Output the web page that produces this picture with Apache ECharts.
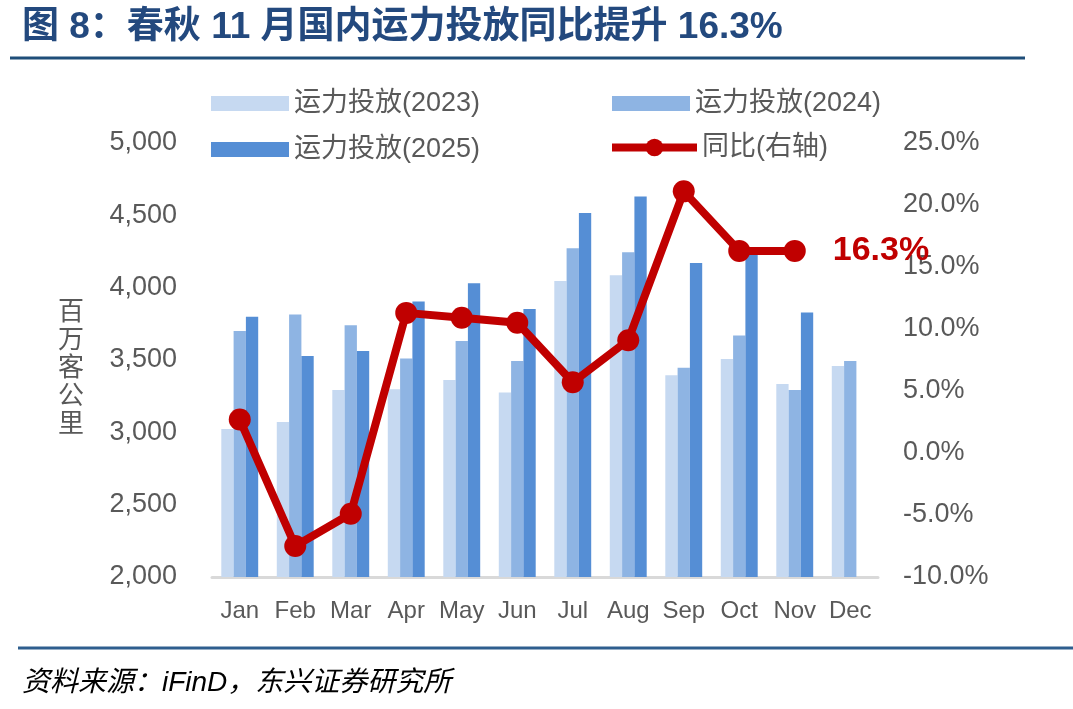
<!DOCTYPE html>
<html>
<head>
    <meta charset="utf-8" />
    <script src="https://cdn.jsdelivr.net/npm/echarts@6.0.0/dist/echarts.min.js"></script>
    <title>春秋运力投放</title>
    <style>
        html, body { margin: 0; padding: 0; background: #fff; }
        #main { width: 1073px; height: 709px; }
    </style>
</head>
<body>
    <div id="main"></div>
    <script type="text/javascript">
        // 月份
        var months = ['Jan', 'Feb', 'Mar', 'Apr', 'May', 'Jun', 'Jul', 'Aug', 'Sep', 'Oct', 'Nov', 'Dec'];
        // 运力投放，百万客公里
        var cap2023 = [3023, 3071, 3292, 3297, 3361, 3276, 4046, 4085, 3394, 3507, 3334, 3458];
        var cap2024 = [3700, 3815, 3741, 3511, 3631, 3493, 4272, 4244, 3447, 3670, 3292, 3493];
        var cap2025 = [3799, 3527, 3562, 3905, 4030, 3852, 4516, 4631, 4170, 4240, 3829, null];
        // 同比（%），右轴
        var yoy = [2.7, -7.5, -4.9, 11.3, 10.9, 10.5, 5.7, 9.1, 21.1, 16.3, 16.3];
        var leftTicks = { min: 2000, max: 5000, interval: 500 };
        var rightTicks = { min: -10, max: 25, interval: 5 };

        var FONT = "'Liberation Sans', Arial, 'Noto Sans CJK SC', sans-serif";
        var GREY = '#595959';
        var RED = '#C00000';

        var yoyData = yoy.map(function (v, i) {
            if (i === yoy.length - 1) {
                return {
                    value: v,
                    label: {
                        show: true,
                        position: 'right',
                        distance: 27,
                        formatter: function (p) { return p.value.toFixed(1) + '%'; },
                        color: RED,
                        fontSize: 34,
                        fontWeight: 'bold',
                        fontFamily: FONT
                    }
                };
            }
            return v;
        });

        function legendAt(name, left, top, isLine) {
            var lg = {
                data: [{ name: name, icon: isLine ? undefined : 'rect' }],
                left: left,
                top: top,
                padding: 0,
                itemWidth: isLine ? 85 : 78,
                itemHeight: isLine ? 22 : 15,
                selectedMode: false,
                textStyle: { color: GREY, fontSize: 27, fontFamily: FONT }
            };
            if (isLine) {
                lg.lineStyle = { width: 8, color: RED };
                lg.itemStyle = { color: RED };
            }
            return lg;
        }

        var chart = echarts.init(document.getElementById('main'));
        var option = {
            animation: false,
            textStyle: { fontFamily: FONT },
            grid: { left: 212, right: 195, top: 143, bottom: 132 },
            legend: [
                legendAt('运力投放(2023)', 211, 90, false),
                legendAt('运力投放(2024)', 612, 90, false),
                legendAt('运力投放(2025)', 211, 136, false),
                legendAt('同比(右轴)', 608, 134, true)
            ],
            xAxis: {
                type: 'category',
                data: months,
                axisLine: { onZero: false, lineStyle: { color: '#D9D9D9', width: 3 } },
                axisTick: { show: false },
                axisLabel: { color: GREY, fontSize: 24, margin: 22, interval: 0 }
            },
            yAxis: [
                {
                    type: 'value',
                    min: leftTicks.min,
                    max: leftTicks.max,
                    interval: leftTicks.interval,
                    splitLine: { show: false },
                    axisLine: { show: false },
                    axisTick: { show: false },
                    axisLabel: {
                        color: GREY, fontSize: 27, margin: 35,
                        formatter: function (v) { return v.toLocaleString('en-US'); }
                    }
                },
                {
                    type: 'value',
                    min: rightTicks.min,
                    max: rightTicks.max,
                    interval: rightTicks.interval,
                    splitLine: { show: false },
                    axisLine: { show: false },
                    axisTick: { show: false },
                    axisLabel: {
                        color: GREY, fontSize: 27, margin: 25,
                        formatter: function (v) { return v.toFixed(1) + '%'; }
                    }
                }
            ],
            series: [
                {
                    name: '运力投放(2023)', type: 'bar', data: cap2023,
                    barWidth: 12.3, barGap: '0%',
                    itemStyle: { color: '#C6D9F1' }
                },
                {
                    name: '运力投放(2024)', type: 'bar', data: cap2024,
                    barWidth: 12.3, barGap: '0%',
                    itemStyle: { color: '#8EB4E3' }
                },
                {
                    name: '运力投放(2025)', type: 'bar', data: cap2025,
                    barWidth: 12.3, barGap: '0%',
                    itemStyle: { color: '#558ED5' }
                },
                {
                    name: '同比(右轴)', type: 'line', yAxisIndex: 1, data: yoyData,
                    symbol: 'circle', symbolSize: 22, z: 5,
                    lineStyle: { color: RED, width: 8 },
                    itemStyle: { color: RED }
                }
            ],
            graphic: [
                {
                    type: 'text', x: 22, y: 28,
                    style: {
                        text: '图 8：春秋 11 月国内运力投放同比提升 16.3%',
                        fill: '#23497E',
                        font: "bold 37px 'Liberation Sans', Arial, 'Noto Sans CJK SC', sans-serif",
                        textVerticalAlign: 'middle'
                    }
                },
                {
                    type: 'line',
                    shape: { x1: 10, y1: 58, x2: 1025, y2: 58 },
                    style: { stroke: '#1F4E79', lineWidth: 3 }
                },
                {
                    type: 'text', x: 71, y: 366,
                    style: {
                        text: '百\n万\n客\n公\n里',
                        fill: GREY,
                        font: "26px 'Noto Sans CJK SC', sans-serif",
                        lineHeight: 28,
                        textAlign: 'center',
                        textVerticalAlign: 'middle'
                    }
                },
                {
                    type: 'line',
                    shape: { x1: 18, y1: 648, x2: 1073, y2: 648 },
                    style: { stroke: '#2E5E8E', lineWidth: 3 }
                },
                {
                    type: 'text', x: 22, y: 683,
                    style: {
                        text: '资料来源：iFinD，东兴证券研究所',
                        fill: '#000',
                        font: "italic 28px 'Liberation Sans', Arial, 'Noto Sans CJK SC', sans-serif",
                        textVerticalAlign: 'middle'
                    }
                }
            ]
        };
        chart.setOption(option);
    </script>
</body>
</html>
